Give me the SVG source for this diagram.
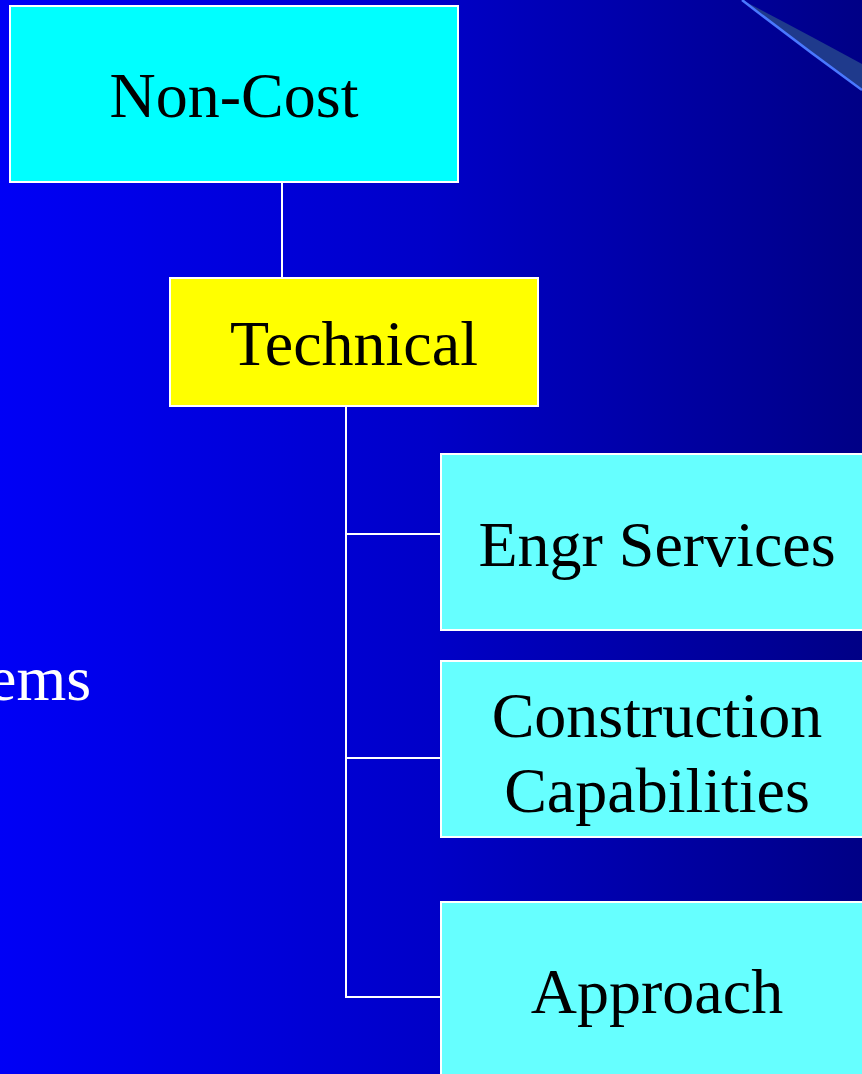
<svg xmlns="http://www.w3.org/2000/svg" width="862" height="1074" viewBox="0 0 862 1074">
  <style>
    .box { stroke: #ffffff; stroke-width: 2; }
    .lbl { font-family: "Liberation Serif", "Times New Roman", serif; font-size: 64px; fill: #000000; text-anchor: middle; }
    .wire { stroke: #ffffff; stroke-width: 2; fill: none; }
  </style>
  <defs>
    <linearGradient id="bg" x1="0" y1="0" x2="1" y2="0">
      <stop offset="0" stop-color="#0000f6"/>
      <stop offset="0.5" stop-color="#0000c8"/>
      <stop offset="1" stop-color="#000086"/>
    </linearGradient>
  </defs>

  <!-- background -->
  <rect x="0" y="0" width="862" height="1074" fill="url(#bg)"/>

  <!-- corner swoosh -->
  <path d="M742 0 Q800 30 862 64 L862 90 Q800 45 742 0 Z" fill="#1f3a8c"/>
  <path d="M742 0 Q800 45 862 90" stroke="#4a78ff" stroke-width="2.5" fill="none"/>

  <!-- partially visible side text -->
  <text x="-12" y="700" font-family="Liberation Serif, serif" font-size="64" fill="#ffffff">ems</text>

  <!-- connectors -->
  <g id="connectors">
    <line class="wire" x1="282" y1="182" x2="282" y2="278"/>
    <line class="wire" x1="346" y1="406" x2="346" y2="998"/>
    <line class="wire" x1="346" y1="534" x2="441" y2="534"/>
    <line class="wire" x1="346" y1="758" x2="441" y2="758"/>
    <line class="wire" x1="345" y1="997" x2="441" y2="997"/>
  </g>

  <g id="non-cost">
    <rect class="box" x="10" y="6" width="448" height="176" fill="#00ffff"/>
    <text class="lbl" x="234" y="117">Non-Cost</text>
  </g>

  <g id="technical">
    <rect class="box" x="170" y="278" width="368" height="128" fill="#ffff00"/>
    <text class="lbl" x="354" y="365">Technical</text>
  </g>

  <g id="engr-services">
    <rect class="box" x="441" y="454" width="440" height="176" fill="#66ffff"/>
    <text class="lbl" x="657" y="566">Engr Services</text>
  </g>

  <g id="construction-capabilities">
    <rect class="box" x="441" y="661" width="440" height="176" fill="#66ffff"/>
    <text class="lbl" x="657" y="737">Construction</text>
    <text class="lbl" x="657" y="812">Capabilities</text>
  </g>

  <g id="approach">
    <rect class="box" x="441" y="902" width="440" height="200" fill="#66ffff"/>
    <text class="lbl" x="657" y="1013">Approach</text>
  </g>
</svg>
